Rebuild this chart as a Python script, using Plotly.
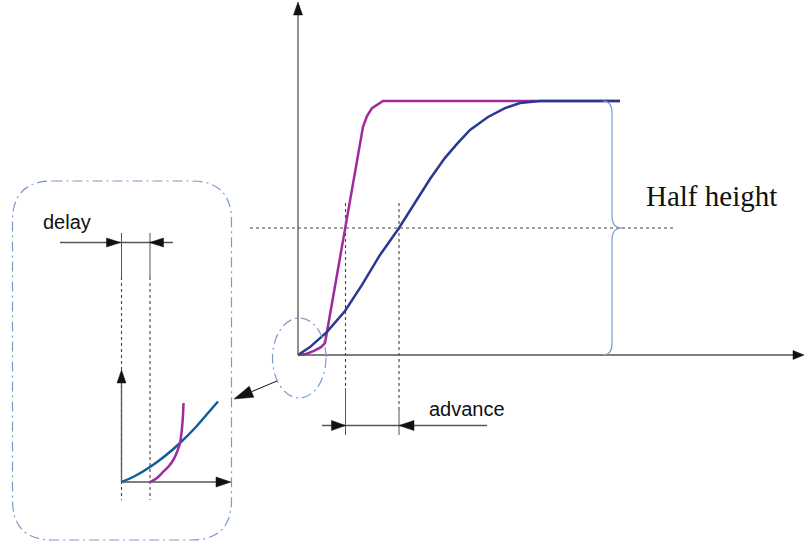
import plotly.graph_objects as go

# main plot: time offset from the origin, level as a fraction of the final value
fast_t = [0, 8, 16, 23, 27, 47, 65, 69, 74, 85, 322]
fast_lvl = [0, 0.004, 0.016, 0.031, 0.047, 0.5, 0.898, 0.941, 0.972, 1.0, 1.0]
slow_t = [0, 12, 29, 47, 64, 82, 101, 117, 132, 147, 159, 172, 190, 207, 222, 242, 322]
slow_lvl = [0, 0.031, 0.091, 0.173, 0.276, 0.394, 0.5, 0.598, 0.693, 0.776,
            0.831, 0.886, 0.937, 0.972, 0.992, 1.0, 1.0]

# zoomed inset near the origin
zoom_slow_t = [0, 13.5, 28.5, 43.5, 58.5, 73.5, 86.5, 96.5]
zoom_slow_lvl = [0, 6, 15, 26, 39, 54, 69, 80.5]
zoom_fast_t = [28.5, 35.5, 41.8, 47.5, 51.8, 55.5, 58.5, 60.5, 61.5, 62]
zoom_fast_lvl = [0, 4, 10.3, 16, 22, 30, 39, 54, 67, 79]

W, H = 804, 547
MAG = "#a2289e"; NAVY = "#2a3990"; TEAL = "#0d5e9c"
AXIS = "#555555"; GUIDE = "#444444"; FRAME = "#7b9bcc"; INK = "#111111"

fig = go.Figure()
fig.add_trace(go.Scatter(x=fast_t, y=fast_lvl, mode="lines",
                         line=dict(color=MAG, width=2.5), xaxis="x", yaxis="y"))
fig.add_trace(go.Scatter(x=slow_t, y=slow_lvl, mode="lines",
                         line=dict(color=NAVY, width=2.5), xaxis="x", yaxis="y"))
fig.add_trace(go.Scatter(x=zoom_slow_t, y=zoom_slow_lvl, mode="lines", line_shape="spline",
                         line=dict(color=TEAL, width=2.5), xaxis="x2", yaxis="y2"))
fig.add_trace(go.Scatter(x=zoom_fast_t, y=zoom_fast_lvl, mode="lines", line_shape="spline",
                         line=dict(color=MAG, width=2.5), xaxis="x2", yaxis="y2"))

shapes = []


def seg(x0, y0, x1, y1, color=AXIS, width=1.3, dash=None, layer="above"):
    shapes.append(dict(type="line", xref="x3", yref="y3", x0=x0, y0=y0, x1=x1, y1=y1,
                       line=dict(color=color, width=width, dash=dash), layer=layer))


def head(tx, ty, dx, dy, length, width, color=INK):
    bx, by = tx - dx * length, ty - dy * length
    px, py = -dy * width / 2, dx * width / 2
    path = f"M{tx},{ty} L{bx + px},{by + py} L{bx - px},{by - py} Z"
    shapes.append(dict(type="path", xref="x3", yref="y3", path=path,
                       fillcolor=color, line=dict(color=color, width=0.5)))


DOT = "3px,3px"

# main axes
seg(298, 355, 298, 14)
head(298, 2, 0, -1, 13, 9)
seg(298, 355, 794, 355)
head(804, 355, 1, 0, 11, 9)

# half-height guide and crossing markers
seg(250, 228, 674, 228, color=GUIDE, width=1.1, dash=DOT, layer="below")
seg(345.5, 203, 345.5, 388, color=GUIDE, width=1.1, dash=DOT, layer="below")
seg(345.5, 388, 345.5, 435, color=AXIS, width=1)
seg(399, 203, 399, 410, color=GUIDE, width=1.1, dash=DOT, layer="below")
seg(399, 410, 399, 435, color=AXIS, width=1)
seg(322, 425.5, 487, 425.5, color=AXIS, width=1.3)
head(345.5, 425.5, 1, 0, 14, 10)
head(399, 425.5, -1, 0, 15, 10)

# brace
brace = ("M603,101 Q612,101 612,113 L612,216 Q612,228 622,228 "
         "Q612,228 612,240 L612,343 Q612,355 603,355")
shapes.append(dict(type="path", xref="x3", yref="y3", path=brace,
                   line=dict(color=FRAME, width=1.2)))

# zoom ellipse and pointer
shapes.append(dict(type="circle", xref="x3", yref="y3", x0=272.5, x1=326, y0=318, y1=398,
                   line=dict(color=FRAME, width=1.2, dash="10px,4px,2px,4px")))
seg(277, 381, 252, 391.5, color=INK, width=1)
head(234, 399, -0.923, 0.386, 19, 12)

# inset frame
x0, x1, y0, y1, r = 12.5, 231.5, 181, 540, 40
frame = (f"M{x0 + r},{y0} L{x1 - r},{y0} Q{x1},{y0} {x1},{y0 + r} L{x1},{y1 - r} "
         f"Q{x1},{y1} {x1 - r},{y1} L{x0 + r},{y1} Q{x0},{y1} {x0},{y1 - r} "
         f"L{x0},{y0 + r} Q{x0},{y0} {x0 + r},{y0} Z")
shapes.append(dict(type="path", xref="x3", yref="y3", path=frame,
                   line=dict(color=FRAME, width=1.2, dash="10px,4px,2px,4px")))

# inset axes and delay markers
for xv in (121.5, 150):
    seg(xv, 233, xv, 277, color=AXIS, width=1)
    seg(xv, 277, xv, 500, color=GUIDE, width=1.1, dash=DOT, layer="below")
seg(121.5, 482, 121.5, 383)
head(121.5, 370, 0, -1, 13, 9)
seg(121.5, 482, 216, 482, color=AXIS, width=1.5)
head(231, 482, 1, 0, 15, 10)
seg(60, 242.5, 173, 242.5, color=AXIS, width=1.5)
head(120.5, 242.5, 1, 0, 14, 9)
head(149.5, 242.5, -1, 0, 14, 9)

sans = dict(family="Liberation Sans, Arial, sans-serif", size=20, color=INK)
annotations = [
    dict(x=41, y=222, text="delay", font=sans),
    dict(x=427, y=409, text="advance", font=sans),
    dict(x=644, y=196, text="Half height",
         font=dict(family="Liberation Serif, Times New Roman, serif", size=29, color=INK)),
]
for a in annotations:
    a.update(xref="x3", yref="y3", showarrow=False, xanchor="left", yanchor="middle")

hidden = dict(visible=False, fixedrange=True, showgrid=False, zeroline=False)
fig.update_layout(
    width=W, height=H, margin=dict(l=0, r=0, t=0, b=0),
    paper_bgcolor="white", plot_bgcolor="white", showlegend=False,
    xaxis=dict(range=[-298, 506], **hidden),
    yaxis=dict(range=[-0.7559, 1.3976], **hidden),
    xaxis2=dict(range=[-121.5, 682.5], overlaying="x", anchor="y2", **hidden),
    yaxis2=dict(range=[-65, 482], overlaying="y", anchor="x2", **hidden),
    xaxis3=dict(range=[0, W], overlaying="x", anchor="y3", **hidden),
    yaxis3=dict(range=[H, 0], overlaying="y", anchor="x3", **hidden),
    shapes=shapes, annotations=annotations,
)

# the page's default body margin would shift the fixed-size figure by 8px
fig.write_html("out.html", config={"displayModeBar": False},
               post_script="document.body.style.margin='0';")
